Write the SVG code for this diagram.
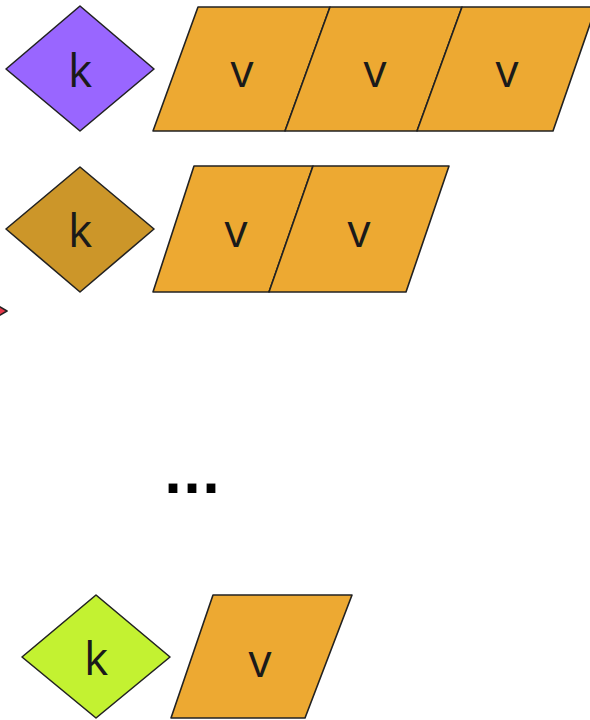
<svg xmlns="http://www.w3.org/2000/svg" width="590" height="720" viewBox="0 0 590 720">
<style>
.s{stroke:#222;stroke-width:1.6;stroke-linejoin:round}
.v{fill:#EDA932}
.t{font-family:"Open Sans","Noto Sans",sans-serif;font-size:46px;fill:#1a1a1a;text-anchor:middle}
</style>
<rect width="590" height="720" fill="#fff"/>
<g id="key1">
<polygon class="s" fill="#9966FF" points="80,6 154,69 80,131 6,69"/>
<text class="t" x="80" y="87">k</text>
</g>
<g id="val1a"><polygon class="s v" points="198,7 330,7 285,131 153,131"/><text class="t" x="242" y="87">v</text></g>
<g id="val1b"><polygon class="s v" points="330,7 462,7 417,131 285,131"/><text class="t" x="375" y="87">v</text></g>
<g id="val1c"><polygon class="s v" points="462,7 596,7 553,131 417,131"/><text class="t" x="507" y="87">v</text></g>
<g id="key2">
<polygon class="s" fill="#CC9629" points="80,167 154,229 80,292 6,229"/>
<text class="t" x="80" y="247">k</text>
</g>
<g id="val2a"><polygon class="s v" points="194,166 313,166 269,292 153,292"/><text class="t" x="236" y="247">v</text></g>
<g id="val2b"><polygon class="s v" points="313,166 449,166 406,292 269,292"/><text class="t" x="359" y="247">v</text></g>
<g id="key3">
<polygon class="s" fill="#E8384A" points="-10,301 7,311 -10,321"/>
</g>
<g id="ellipsis"><text x="192" y="493" font-family="DejaVu Sans,sans-serif" font-weight="bold" font-size="50" fill="#000" text-anchor="middle">...</text></g>
<g id="key4">
<polygon class="s" fill="#C3F231" points="96,595 170,657 96,718 22,657"/>
<text class="t" x="96" y="675">k</text>
</g>
<g id="val4"><polygon class="s v" points="213,595 352,595 305,718 171,718"/><text class="t" x="260" y="677">v</text></g>
<g id="connectors"></g>
</svg>
